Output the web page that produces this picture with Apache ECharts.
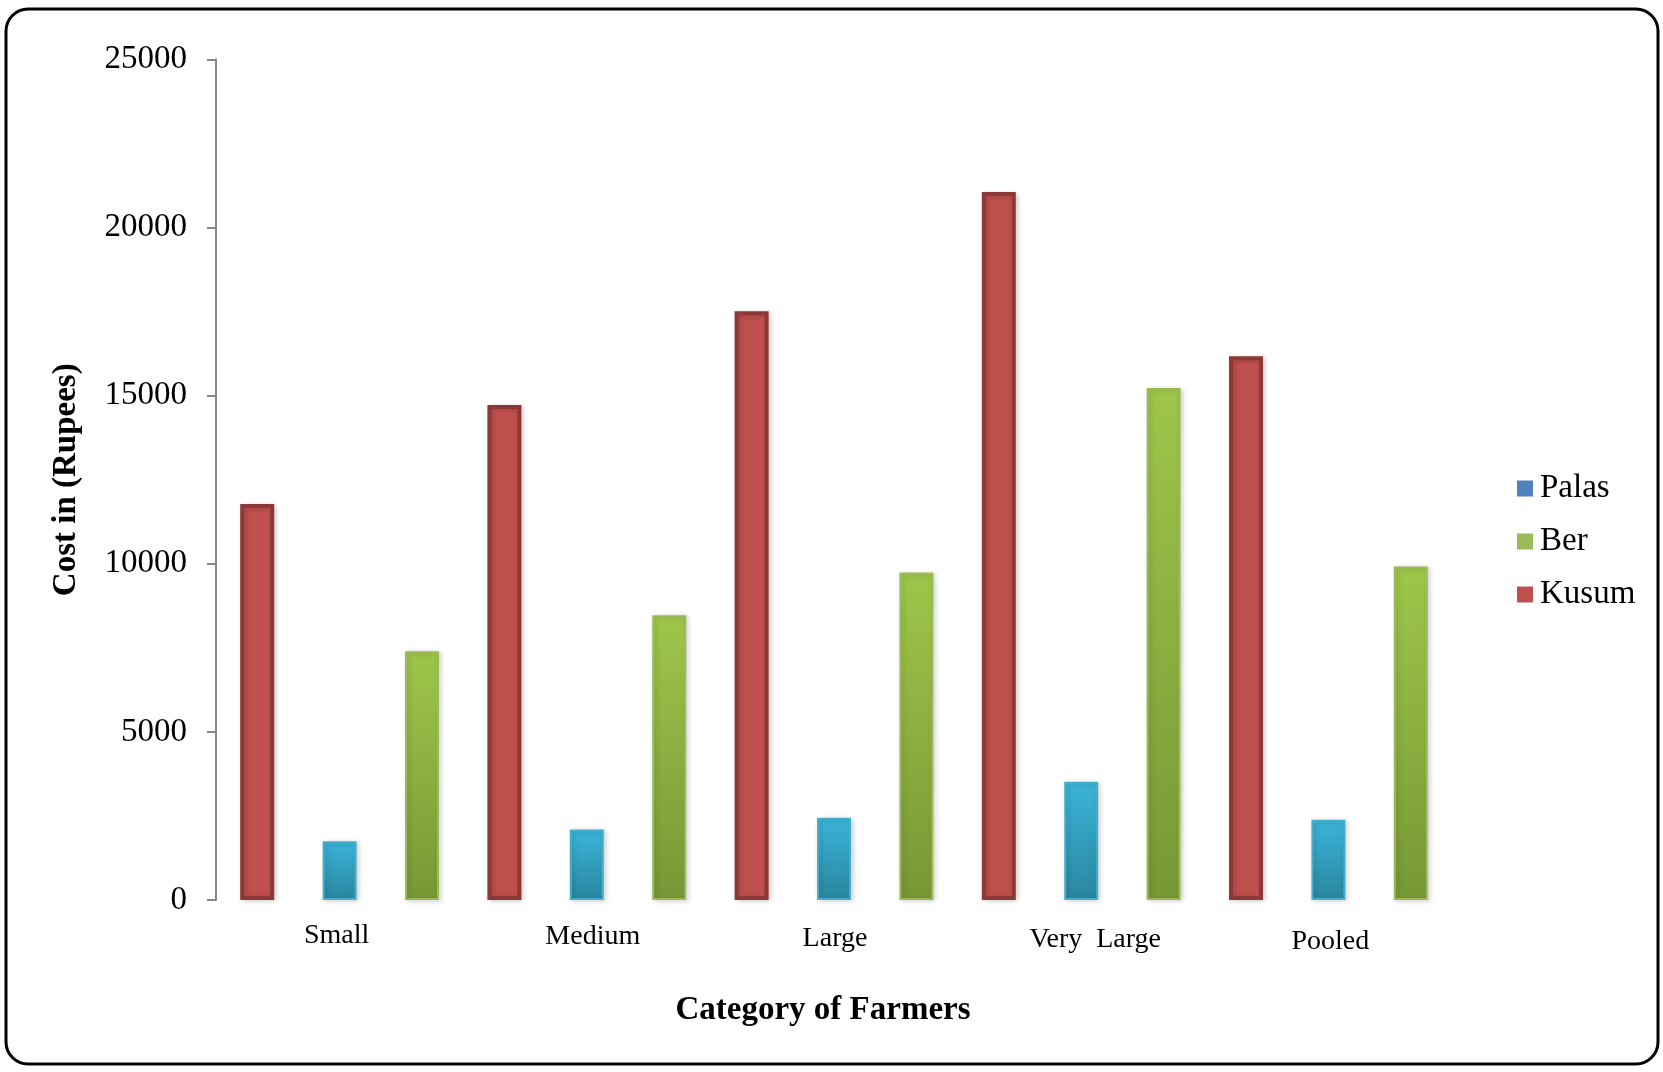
<!DOCTYPE html>
<html>
<head>
<meta charset="utf-8">
<title>Cost by Category of Farmers</title>
<script src="https://cdn.jsdelivr.net/npm/echarts@6/dist/echarts.min.js"></script>
<style>
  html, body { margin: 0; padding: 0; background: #ffffff; }
  #chart { width: 1663px; height: 1072px; }
</style>
</head>
<body>
<div id="chart"></div>
<script>
// Farmer categories along the x axis
const categories = ['Small', 'Medium', 'Large', 'Very  Large', 'Pooled'];

// Cost in rupees per category
const kusum = [11780, 14720, 17510, 21060, 16170];
const palas = [1750, 2100, 2450, 3520, 2390];
const ber = [7400, 8470, 9740, 15230, 9920];

// Y axis range and step
const yMin = 0;
const yMax = 25000;
const yStep = 5000;

const FONT = '"Liberation Serif", "Times New Roman", Times, serif';

// small hand-placed shifts of the category captions: [dx, dy]
const labelShift = [[-3, 0], [6, 1], [1, 3], [14, 4], [2, 6]];

function vGrad(top, bottom) {
  return new echarts.graphic.LinearGradient(0, 0, 0, 1, [
    { offset: 0, color: top },
    { offset: 1, color: bottom }
  ]);
}

const categoryData = categories.map(function (name, i) {
  const dx = labelShift[i][0];
  const dy = labelShift[i][1];
  return {
    value: name,
    textStyle: {
      padding: [dy, dx < 0 ? -2 * dx : 0, 0, dx > 0 ? 2 * dx : 0]
    }
  };
});

const BAR_W = 34;
const shadow = { shadowBlur: 5, shadowColor: 'rgba(0,0,0,0.18)', shadowOffsetX: 2, shadowOffsetY: 1 };

const chart = echarts.init(document.getElementById('chart'), null, { renderer: 'canvas' });

chart.setOption({
  backgroundColor: '#ffffff',
  animation: false,
  textStyle: { fontFamily: FONT, color: '#000000' },
  graphic: [{
    type: 'rect',
    silent: true,
    shape: { x: 6, y: 9, width: 1652, height: 1055, r: 22 },
    style: { fill: 'none', stroke: '#000000', lineWidth: 3 },
    z: -10
  }],
  grid: {
    left: 216,
    right: 211,
    top: 59.5,
    bottom: 172,
    containLabel: false,
    outerBoundsMode: 'none'
  },
  legend: {
    orient: 'vertical',
    left: 1512,
    top: 467,
    itemWidth: 16,
    itemHeight: 16,
    itemGap: 20,
    icon: 'rect',
    textStyle: { fontFamily: FONT, fontSize: 33, color: '#000000', padding: [0, 0, 0, 2] },
    data: [
      { name: 'Palas', itemStyle: { color: '#4F81BD', borderWidth: 0 } },
      { name: 'Ber', itemStyle: { color: '#9BBB59', borderWidth: 0 } },
      { name: 'Kusum', itemStyle: { color: '#C0504D', borderWidth: 0 } }
    ]
  },
  xAxis: {
    type: 'category',
    data: categoryData,
    name: 'Category of Farmers',
    nameLocation: 'middle',
    nameGap: 94,
    nameTextStyle: { fontFamily: FONT, fontSize: 33, fontWeight: 'bold', color: '#000000', padding: [0, 22, 0, 0] },
    axisLine: { show: false },
    axisTick: { show: false },
    axisLabel: { fontFamily: FONT, fontSize: 28, color: '#000000', margin: 22, interval: 0 },
    splitLine: { show: false }
  },
  yAxis: {
    type: 'value',
    min: yMin,
    max: yMax,
    interval: yStep,
    name: 'Cost in (Rupees)',
    nameLocation: 'middle',
    nameRotate: 90,
    nameGap: 133,
    nameTextStyle: { fontFamily: FONT, fontSize: 33, fontWeight: 'bold', color: '#000000' },
    axisLine: { show: true, lineStyle: { color: '#868686', width: 2 } },
    axisTick: { show: true, inside: false, length: 9, lineStyle: { color: '#868686', width: 2 } },
    axisLabel: {
      fontFamily: FONT, fontSize: 33, color: '#000000', margin: 29,
      formatter: function (v) { return String(v); }
    },
    splitLine: { show: false }
  },
  series: [
    {
      name: 'Kusum',
      type: 'bar',
      data: kusum,
      barWidth: BAR_W,
      barGap: '142.35%',
      itemStyle: Object.assign({ color: '#C0504D', borderColor: '#8C3836', borderWidth: 4 }, shadow)
    },
    {
      name: 'Palas',
      type: 'bar',
      data: palas,
      barWidth: BAR_W,
      barGap: '142.35%',
      itemStyle: Object.assign({ color: vGrad('#3AB4D8', '#2A869F'), borderColor: '#46AECB', borderWidth: 2 }, shadow)
    },
    {
      name: 'Ber',
      type: 'bar',
      data: ber,
      barWidth: BAR_W,
      barGap: '142.35%',
      itemStyle: Object.assign({ color: vGrad('#9EC64A', '#779735'), borderColor: '#9BBB59', borderWidth: 2 }, shadow)
    }
  ]
});
</script>
</body>
</html>
